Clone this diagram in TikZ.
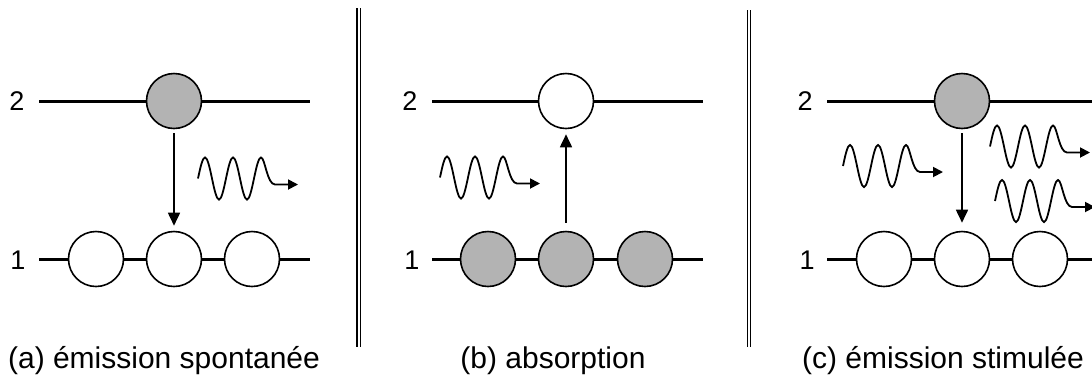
\documentclass[tikz,border=0pt]{standalone}
\usepackage{fontspec}
\setmainfont{Liberation Sans}
\usetikzlibrary{arrows.meta}
\definecolor{atomgray}{HTML}{B3B3B3}
\tikzset{
  atom/.style={circle, draw, line width=1.6pt, minimum size=55pt, inner sep=0pt},
  full/.style={atom, fill=atomgray},
  empty/.style={atom, fill=white},
  level/.style={line width=3pt},
  jump/.style={line width=1.7pt, -{Triangle[length=13pt,width=12pt]}, shorten <=4pt, shorten >=5pt},
  wave/.style={line width=1.8pt, -{Triangle[length=10pt,width=10pt]}},
  sep/.style={double, double distance=2pt, line width=1.3pt},
  lvltxt/.style={anchor=base, inner sep=0pt, font=\fontsize{27}{31}\selectfont},
  caption/.style={anchor=base, inner sep=0pt, font=\fontsize{30}{35}\selectfont},
  photon/.pic={\draw[wave] (0,0) sin (7,-21) cos (14,0) sin (21,21) cos (28,0) sin (35,-21) cos (42,0) sin (49,21) cos (56,0) sin (63,-21) .. controls (67,-21) and (69,6) .. (77,6) -- (100,6);}
}
\begin{document}
\begin{tikzpicture}[x=1pt, y=-1pt]
\useasboundingbox (0,0) rectangle (1092,376);
\clip (0,0) rectangle (1092,376);
% ---------- panel (a)
\coordinate (a2L) at (39,101);
\coordinate (a2R) at (310,101);
\coordinate (a1L) at (39,259);
\coordinate (a1R) at (310,259);
\node[full]  (a2c)  at (174,101) {};
\node[empty] (a1c1) at (96,259) {};
\node[empty] (a1c2) at (174,259) {};
\node[empty] (a1c3) at (252,259) {};
\draw[level] (a2L) -- (a2c) -- (a2R);
\draw[level] (a1L) -- (a1c1) -- (a1c2) -- (a1c3) -- (a1R);
\draw[jump] (a2c) -- (a1c2);
\pic at (198,178.5) {photon};
\node[lvltxt] (a2t) at (17,110) {2};
\node[lvltxt] (a1t) at (18,269) {1};
\node[caption] (acap) at (164,368) {(a) émission spontanée};
% ---------- separator 1
\coordinate (s1T) at (358.5,8);
\coordinate (s1B) at (358.5,347);
\draw[sep] (s1T) -- (s1B);
% ---------- panel (b)
\coordinate (b2L) at (432,101);
\coordinate (b2R) at (703,101);
\coordinate (b1L) at (432,259);
\coordinate (b1R) at (703,259);
\node[empty] (b2c)  at (566,101) {};
\node[full]  (b1c1) at (488,259) {};
\node[full]  (b1c2) at (566,259) {};
\node[full]  (b1c3) at (645,259) {};
\draw[level] (b2L) -- (b2c) -- (b2R);
\draw[level] (b1L) -- (b1c1) -- (b1c2) -- (b1c3) -- (b1R);
\draw[jump, shorten <=8pt] (b1c2) -- (b2c);
\pic at (440,177.5) {photon};
\node[lvltxt] (b2t) at (410,110) {2};
\node[lvltxt] (b1t) at (412,269) {1};
\node[caption] (bcap) at (553,368) {(b) absorption};
% ---------- separator 2
\coordinate (s2T) at (749,10);
\coordinate (s2B) at (749,347);
\draw[sep] (s2T) -- (s2B);
% ---------- panel (c)
\coordinate (c2L) at (827,101);
\coordinate (c2R) at (1100,101);
\coordinate (c1L) at (827,259);
\coordinate (c1R) at (1100,259);
\node[full]  (c2c)  at (962,101) {};
\node[empty] (c1c1) at (884,259) {};
\node[empty] (c1c2) at (962,259) {};
\node[empty] (c1c3) at (1040,259) {};
\draw[level] (c2L) -- (c2c) -- (c2R);
\draw[level] (c1L) -- (c1c1) -- (c1c2) -- (c1c3) -- (c1R);
\draw[jump, shorten >=8pt] (c2c) -- (c1c2);
\pic at (843,166) {photon};
\pic at (990,146.5) {photon};
\pic at (995,201) {photon};
\node[lvltxt] (c2t) at (805,110) {2};
\node[lvltxt] (c1t) at (807,269) {1};
\node[caption] (ccap) at (943,368) {(c) émission stimulée};
\end{tikzpicture}
\end{document}
